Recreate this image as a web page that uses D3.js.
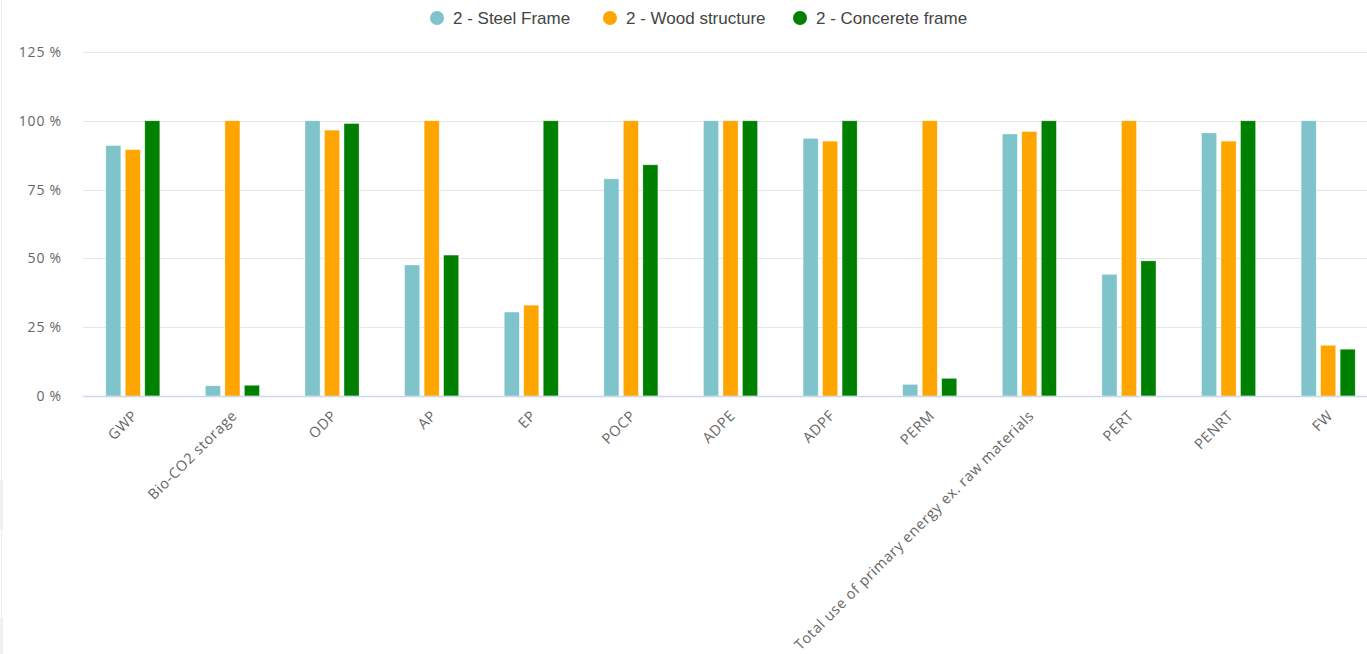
<!DOCTYPE html>
<html>
<head>
<meta charset="utf-8">
<script src="https://cdn.jsdelivr.net/npm/d3@7"></script>
<style>
  html, body { margin: 0; padding: 0; background: #fff; }
  svg { display: block; }
</style>
</head>
<body>
<svg id="chart" width="1367" height="654"></svg>
<script>
// Indicator categories on the x axis
const categories = ["GWP", "Bio-CO2 storage", "ODP", "AP", "EP", "POCP", "ADPE", "ADPF", "PERM",
  "Total use of primary energy ex. raw materials", "PERT", "PENRT", "FW"];

// Series names and values (% relative to the highest alternative)
const seriesNames = ["2 - Steel Frame", "2 - Wood structure", "2 - Concerete frame"];
const steelFrame     = [91.0, 3.7, 100, 47.6, 30.5, 78.9, 100, 93.6, 4.2, 95.2, 44.2, 95.6, 100];
const woodStructure  = [89.5, 100, 96.6, 100, 33.0, 100, 100, 92.6, 100, 96.1, 100, 92.6, 18.4];
const concreteFrame  = [100, 3.9, 99.0, 51.2, 100, 84.0, 100, 100, 6.4, 100, 49.1, 100, 17.0];
const seriesColors = ["#7fc3cb", "#ffa500", "#008000"];

// Y axis tick values (%)
const yTicks = [0, 25, 50, 75, 100, 125];

const seriesValues = [steelFrame, woodStructure, concreteFrame];

const svg = d3.select("#chart");
const plot = { left: 83, right: 1378, top: 52, bottom: 396 };

const x0 = d3.scaleBand().domain(categories).range([plot.left, plot.right]).padding(0);
const groupWidth = 54;
const x1 = d3.scaleBand().domain(seriesNames).range([0, groupWidth]).paddingInner(0.23).paddingOuter(0);
const y = d3.scaleLinear().domain([0, 125]).range([plot.bottom, plot.top]);

// faint frame on the left edge
svg.append("line").attr("x1", 1.5).attr("x2", 1.5).attr("y1", 0).attr("y2", 654)
  .attr("stroke", "#eeeeee").attr("stroke-width", 1);
svg.append("rect").attr("x", 0).attr("y", 480).attr("width", 3).attr("height", 50).attr("fill", "#eef1f3");
svg.append("rect").attr("x", 0).attr("y", 618).attr("width", 3).attr("height", 36).attr("fill", "#eef1f3");

// Gridlines
svg.append("g").selectAll("line").data(yTicks.filter(t => t > 0)).join("line")
  .attr("x1", plot.left).attr("x2", 1367)
  .attr("y1", d => Math.round(y(d)) + 0.5).attr("y2", d => Math.round(y(d)) + 0.5)
  .attr("stroke", "#e6e6e6").attr("stroke-width", 1);

const labelFont = "'Open Sans', 'Noto Sans', sans-serif";

// Y axis labels
const yAxis = d3.axisLeft(y).tickValues(yTicks).tickSize(0).tickPadding(0).tickFormat(d => d + " %");
const yg = svg.append("g").attr("transform", `translate(62,0)`).call(yAxis);
yg.select(".domain").remove();
yg.selectAll("text").attr("font-family", labelFont)
  .attr("font-size", 14).attr("letter-spacing", "0.8px").attr("fill", "#666");

// Bars
const groups = svg.append("g").selectAll("g").data(categories).join("g")
  .attr("transform", d => `translate(${x0(d) + (x0.bandwidth() - groupWidth) / 2},0)`);
groups.selectAll("rect")
  .data((c, i) => seriesNames.map((s, k) => ({ s, k, v: seriesValues[k][i] })))
  .join("rect")
  .attr("x", d => x1(d.s))
  .attr("width", x1.bandwidth())
  .attr("y", d => y(d.v))
  .attr("height", d => y(0) - y(d.v))
  .attr("fill", d => seriesColors[d.k])
  .attr("stroke", "#ffffff").attr("stroke-opacity", 0.5).attr("stroke-width", 0.6);

// X axis
const xAxis = d3.axisBottom(x0).tickSize(0).tickPadding(0);
const xg = svg.append("g").attr("transform", `translate(0,${plot.bottom})`).call(xAxis);
xg.select(".domain").attr("d", `M${plot.left},0.5H1367`).attr("stroke", "#ccd6eb").attr("stroke-width", 1.5);
xg.selectAll("text")
  .attr("font-family", labelFont)
  .attr("font-size", 14.5).attr("letter-spacing", "0.6px").attr("fill", "#666")
  .attr("text-anchor", "end")
  .attr("dy", "0.35em")
  .attr("transform", "translate(2,17) rotate(-45)");

// Legend
const legendX = [437, 610, 800];
const legend = svg.append("g").selectAll("g").data(seriesNames).join("g")
  .attr("transform", (d, i) => `translate(${legendX[i]},18)`);
legend.append("circle").attr("r", 7).attr("fill", (d, i) => seriesColors[i]);
legend.append("text").attr("x", 16).attr("dy", "0.35em")
  .attr("font-family", "'Liberation Sans', Arial, sans-serif")
  .attr("font-size", 17).attr("fill", "#444").text(d => d);
</script>
</body>
</html>
